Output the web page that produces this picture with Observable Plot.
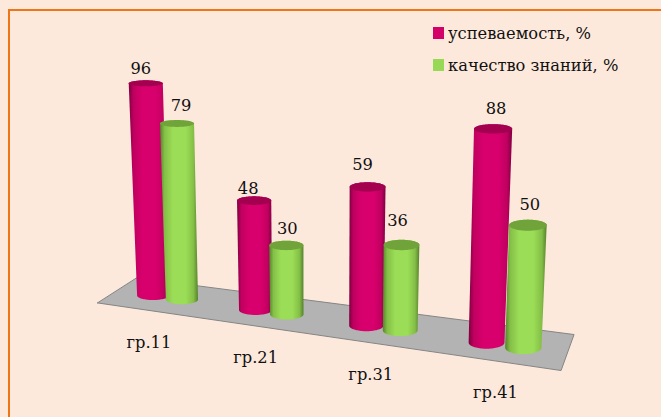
<!DOCTYPE html>
<html><head><meta charset="utf-8">
<script src="https://cdn.jsdelivr.net/npm/d3@7"></script>
<script src="https://cdn.jsdelivr.net/npm/@observablehq/plot@0.6"></script>
<style>
html,body{margin:0;padding:0;width:661px;height:417px;overflow:hidden;background:#fde9dc}
#frame{position:absolute;left:8px;top:9px;width:700px;height:460px;border-top:2.5px solid #ee7518;border-left:2.5px solid #ee7518;box-sizing:border-box}
#chart{position:absolute;left:0;top:0}
#legend{position:absolute;left:433px;top:22px;font:16.3px "DejaVu Serif",serif;color:#111}
#legend div{height:32px;line-height:24px;white-space:nowrap}
#legend i{display:inline-block;width:10.5px;height:12px;margin-right:4.5px;vertical-align:0}
</style></head><body>
<div id="frame"></div><div id="chart"></div><div id="legend"></div>
<script>
// ---- data ----
const groups = ["гр.11", "гр.21", "гр.31", "гр.41"];
const seriesNames = ["успеваемость, %", "качество знаний, %"];
const uspevaemost = [96, 48, 59, 88];
const kachestvo = [79, 30, 36, 50];

// ---- perspective model of the 3-D scene (screen units) ----
const W = 661, H = 417;
const persp = t => 1 - 0.0374 * t;
const groundX = t => (152.5 + 93 * t) / persp(t);
const groundY = t => (295 + 2.9 * t) / persp(t);
const unitAt = t => 2.21 / (1 - 0.03 * t);
const radiusAt = t => 15.9 / persp(t);
const flatness = (t, v) => 0.283 + 0.0207 * t - 0.00111 * v;
const seriesStep = 0.29;
const vanishX = 320;

const colours = [
  {bright:"#d8006c", dark:"#7e0040", mid:"#c00060", top:"#a3004f", swatch:"#d4006a"},
  {bright:"#9bdd56", dark:"#55832a", mid:"#84bf47", top:"#71a33b", swatch:"#97d855"}
];
const values = [uspevaemost, kachestvo];

const cylinders = values.flatMap((vals, s) => vals.map((v, g) => {
  const t = g + s * seriesStep;
  const bx = groundX(t), by = groundY(t), r = radiusAt(t);
  const grow = 1 + 0.00045 * v;
  return {g, s, v, t, bx, by, r, ry: r * flatness(t, 0),
    tx: vanishX + (bx - vanishX) * grow, ty: by - v * unitAt(t),
    tr: r * (1 + 0.00075 * v), try_: r * (1 + 0.00075 * v) * flatness(t, v)};
})).sort((a, b) => a.t - b.t);

const N = 40, arc = d3.range(N + 1).map(i => i / N * Math.PI);
const bodyPts = cylinders.flatMap(c => [
  ...arc.map(a => ({id: c.g + "-" + c.s, s: c.s, x: c.tx - c.tr * Math.cos(a), y: c.ty - c.try_ * Math.sin(a)})),
  ...arc.map(a => ({id: c.g + "-" + c.s, s: c.s, x: c.bx + c.r * Math.cos(a), y: c.by + c.ry * Math.sin(a)}))
]);
const capPts = cylinders.flatMap(c =>
  d3.range(2 * N + 1).map(i => {
    const a = i / N * Math.PI;
    return {id: c.g + "-" + c.s, s: c.s, x: c.tx + c.tr * Math.cos(a), y: c.ty + c.try_ * Math.sin(a)};
  }));

// ground plate: along-axis span and depth span of the model
const plate = (t, d) => {
  const k = (t + 0.37) / 4;
  return {x: groundX(t) + d * (-19.5 + 13 * k), y: groundY(t) - 1.5 * k + d * (12.5 + 5.5 * k)};
};
const platePts = [[-0.37, 1], [-0.37, -1], [3.63, -1], [3.63, 1], [-0.37, 1]].map(([t, d]) => plate(t, d));

const labelNudge = [[-5,-15],[4,-18],[-6,-12],[1,-17],[-5,-22],[-4,-24],[3,-20],[2,-20]];
const valueLabels = [...cylinders].sort((a, b) => a.g - b.g || a.s - b.s).map((c, i) => ({
  x: c.tx, y: c.ty, text: String(c.v), dx: labelNudge[i][0], dy: labelNudge[i][1]
}));
const groupLabels = groups.map((name, g) => ({name, x: groundX(g + 0.15) - 19 + 3 * g, y: groundY(g + 0.15) + 45 + 0.7 * g}));

const defs = () => {
  const d = d3.create("svg:defs");
  colours.forEach((c, i) => {
    const grad = d.append("linearGradient").attr("id", "cyl" + i);
    [[0, c.dark], [0.12, c.mid], [0.34, c.bright], [0.68, c.bright], [0.88, c.mid], [1, c.dark]]
      .forEach(([o, col]) => grad.append("stop").attr("offset", o).attr("stop-color", col));
  });
  return d.node();
};

const fontFamily = '"DejaVu Serif", serif';
const chart = Plot.plot({
  width: W, height: H, margin: 0,
  x: {domain: [0, W], range: [0, W], axis: null},
  y: {domain: [0, H], range: [0, H], axis: null},
  style: {background: "transparent", fontFamily},
  marks: [
    defs,
    Plot.line(platePts, {x: "x", y: "y", fill: "#b3b3b3", stroke: "#858585", strokeWidth: 1}),
    ...cylinders.flatMap(c => {
      const id = c.g + "-" + c.s;
      return [
        Plot.line(bodyPts.filter(p => p.id === id), {x: "x", y: "y", fill: `url(#cyl${c.s})`, stroke: "none"}),
        Plot.line(capPts.filter(p => p.id === id), {x: "x", y: "y", fill: colours[c.s].top, stroke: "none"})
      ];
    }),
    ...valueLabels.map(l => Plot.text([l], {x: "x", y: "y", text: "text", dx: l.dx, dy: l.dy, fontSize: 16.3, fill: "#111"})),
    Plot.text(groupLabels, {x: "x", y: "y", text: "name", fontSize: 16.3, fill: "#111"})
  ]
});
document.getElementById("chart").append(chart);

const lg = d3.select("#legend");
seriesNames.forEach((n, i) => {
  const row = lg.append("div");
  row.append("i").style("background", colours[i].swatch);
  row.append("span").text(n);
});
</script>
</body></html>
